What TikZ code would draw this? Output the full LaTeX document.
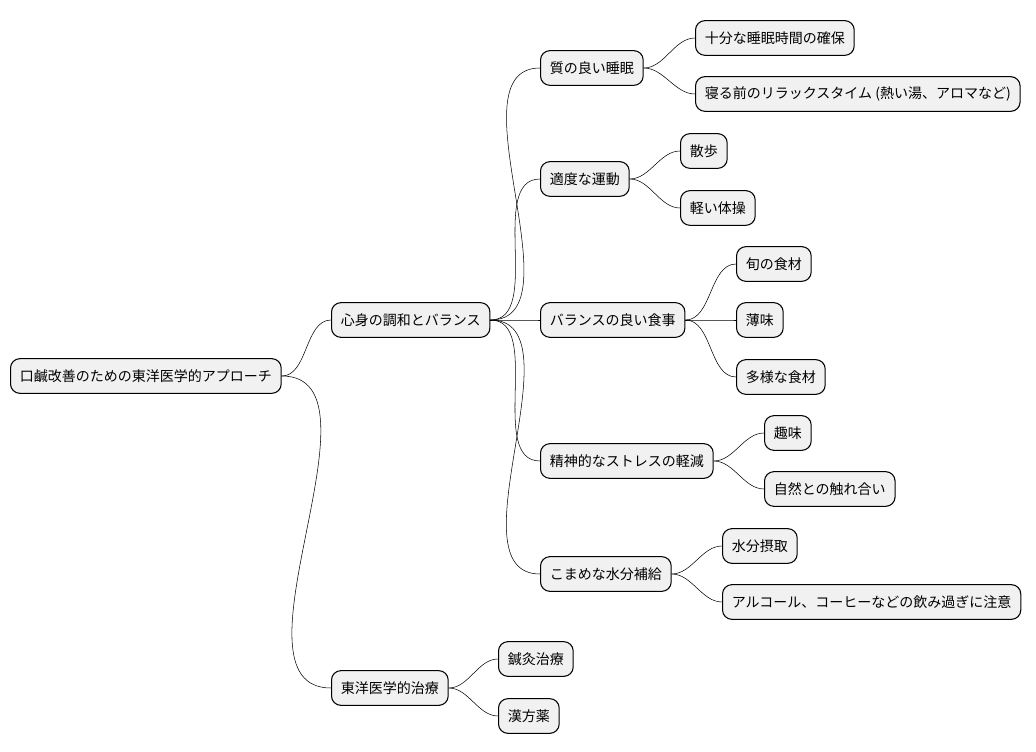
\documentclass[tikz,border=0pt]{standalone}
\usepackage{fontspec}
\setmainfont{Noto Sans CJK JP}
\usetikzlibrary{positioning}
\definecolor{boxfill}{HTML}{F1F1F1}
\tikzset{
    % box style of the mind map
    mapnode/.style={
             draw=black, thick, fill=boxfill,
             rounded corners=7pt, anchor=west,
             minimum height=26pt, inner xsep=7pt,
             font=\fontsize{10.5}{12}\selectfont},
    % branch style
    maparrow/.style={
            thin,
            out=0, in=180, looseness=0.9}
}
\begin{document}
\begin{tikzpicture}[x=0.75pt, y=-0.75pt]
 \useasboundingbox (0,0) rectangle (1036,752);
 \node[mapnode] (root) at (10,376) {口鹹改善のための東洋医学的アプローチ};
 \node[mapnode] (balance) at (331,320) {心身の調和とバランス};
 \node[mapnode] (treat) at (331,688) {東洋医学的治療};
 \node[mapnode] (sleep) at (540,68) {質の良い睡眠};
 \node[mapnode] (exercise) at (540,179) {適度な運動};
 \node[mapnode] (meal) at (540,320) {バランスの良い食事};
 \node[mapnode] (stress) at (540,461) {精神的なストレスの軽減};
 \node[mapnode] (water) at (540,574) {こまめな水分補給};
 \node[mapnode] (sleeptime) at (695,38) {十分な睡眠時間の確保};
 \node[mapnode] (relax) at (695,94) {寝る前のリラックスタイム (熱い湯、アロマなど)};
 \node[mapnode] (walk) at (680,151) {散歩};
 \node[mapnode] (gym) at (680,208) {軽い体操};
 \node[mapnode] (season) at (736,264) {旬の食材};
 \node[mapnode] (light) at (736,320) {薄味};
 \node[mapnode] (variety) at (736,377) {多様な食材};
 \node[mapnode] (hobby) at (764,433) {趣味};
 \node[mapnode] (nature) at (764,489) {自然との触れ合い};
 \node[mapnode] (intake) at (722,546) {水分摂取};
 \node[mapnode] (alcohol) at (722,602) {アルコール、コーヒーなどの飲み過ぎに注意};
 \node[mapnode] (acu) at (498,659) {鍼灸治療};
 \node[mapnode] (herb) at (498,716) {漢方薬};
 \foreach \from/\to in {root/balance, root/treat,
     balance/sleep, balance/exercise, balance/meal, balance/stress, balance/water,
     sleep/sleeptime, sleep/relax, exercise/walk, exercise/gym,
     meal/season, meal/light, meal/variety, stress/hobby, stress/nature,
     water/intake, water/alcohol, treat/acu, treat/herb}
   \draw[maparrow] (\from.east) to (\to.west);
\end{tikzpicture}
\end{document}
